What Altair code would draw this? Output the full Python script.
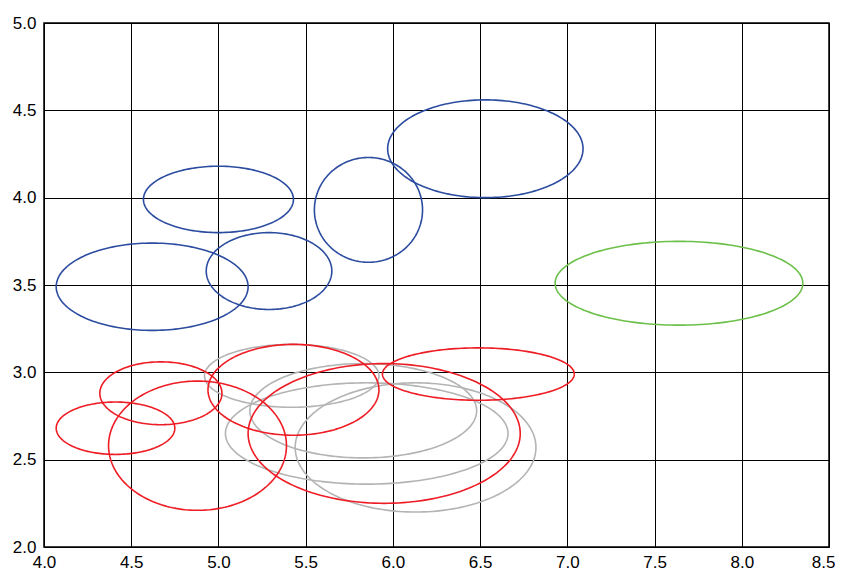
import altair as alt
import numpy as np
import pandas as pd

# Ellipse definitions (center x, center y, half-width, half-height, group)
groups = ["gray", "gray", "gray", "gray",
          "red", "red", "red", "red", "red", "red",
          "blue", "blue", "blue", "blue", "blue",
          "green"]
cx = [5.42, 5.83, 5.85, 6.13,
      4.41, 4.67, 4.88, 5.43, 5.95, 6.49,
      6.53, 5.86, 5.00, 4.62, 5.29,
      7.64]
cy = [2.98, 2.78, 2.65, 2.57,
      2.68, 2.88, 2.58, 2.90, 2.65, 2.99,
      4.28, 3.93, 3.99, 3.49, 3.58,
      3.51]
rx = [0.50, 0.65, 0.81, 0.69,
      0.34, 0.35, 0.51, 0.49, 0.78, 0.55,
      0.56, 0.31, 0.43, 0.55, 0.36,
      0.71]
ry = [0.18, 0.27, 0.29, 0.37,
      0.15, 0.18, 0.37, 0.26, 0.40, 0.15,
      0.28, 0.30, 0.19, 0.25, 0.22,
      0.24]

x_ticks = [4.0, 4.5, 5.0, 5.5, 6.0, 6.5, 7.0, 7.5, 8.0, 8.5]
y_ticks = [2.0, 2.5, 3.0, 3.5, 4.0, 4.5, 5.0]

group_names = ["gray", "red", "blue", "green"]
group_colors = ["#b4b4b4", "#ee1c24", "#2b4c9f", "#6cc04a"]

rows = []
t = np.linspace(0, 2 * np.pi, 181)
for i in range(len(cx)):
    for k, a in enumerate(t):
        rows.append({
            "id": i,
            "group": groups[i],
            "k": k,
            "x": cx[i] + rx[i] * np.cos(a),
            "y": cy[i] + ry[i] * np.sin(a),
        })
df = pd.DataFrame(rows)

last_x = x_ticks[-1]

chart = alt.Chart(df).mark_line(strokeWidth=1.6, clip=True).encode(
    x=alt.X("x:Q", scale=alt.Scale(domain=[4.0, 8.5], nice=False, zero=False),
            axis=alt.Axis(
                values=x_ticks, format=".1f", title=None, labelPadding=7,
                labelAlign={"condition": {"test": f"datum.value >= {last_x}", "value": "right"},
                            "value": "center"},
                labelOffset={"condition": {"test": f"datum.value >= {last_x}", "value": 6},
                             "value": 0},
            )),
    y=alt.Y("y:Q", scale=alt.Scale(domain=[2.0, 5.0], nice=False, zero=False),
            axis=alt.Axis(values=y_ticks, format=".1f", title=None, labelPadding=8)),
    color=alt.Color("group:N", scale=alt.Scale(domain=group_names, range=group_colors), legend=None),
    detail="id:N",
    order="k:Q",
).properties(
    width=785,
    height=524,
    autosize=alt.AutoSizeParams(type="none"),
    padding={"left": 36, "top": 15, "right": 6, "bottom": 30},
).configure_view(
    stroke="black", strokeWidth=1.5
).configure_axis(
    grid=True, gridColor="black", gridWidth=1, gridOpacity=1,
    domain=False, ticks=False,
    labelFont="Liberation Sans", labelFontSize=17, labelColor="black",
).configure_axisX(labelFlush=False).configure_axisY(labelFlush=False)

chart.save("out.html", embed_options={"renderer": "svg", "actions": False})
